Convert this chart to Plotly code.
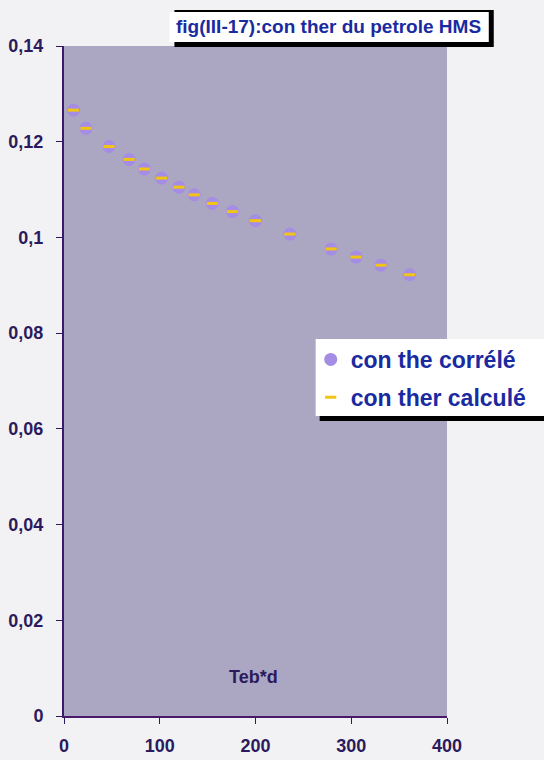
import plotly.graph_objects as go

# Thermal conductivity of HMS crude vs Teb*d
teb_d = [10, 23, 47, 68, 84, 102, 120, 136, 155, 176, 200, 236, 279, 305, 331, 361]
con_correle = [0.1266, 0.1228, 0.1190, 0.1163, 0.1143, 0.1124, 0.1105, 0.1089,
               0.1071, 0.1054, 0.1035, 0.1007, 0.0976, 0.0959, 0.0942, 0.0922]
con_calcule = [0.1266, 0.1228, 0.1190, 0.1163, 0.1143, 0.1124, 0.1105, 0.1089,
               0.1071, 0.1054, 0.1035, 0.1007, 0.0976, 0.0959, 0.0942, 0.0922]
series_names = ["con the corrélé", "con ther calculé"]
title_text = "fig(III-17):con ther du petrole HMS"
x_title = "Teb*d"

W, H = 544, 760
L, R, T, B = 64, 95, 46, 44
PW, PH = W - L - R, H - T - B


def px(xp):
    return (xp - L) / PW


def py(yp):
    return (H - B - yp) / PH


FONT = "Liberation Sans"
AX_COL = "#2b1a5c"
TXT_BLUE = "#1a2aa0"

fig = go.Figure()
fig.add_trace(go.Scatter(
    x=teb_d, y=con_correle, mode="markers", name=series_names[0],
    legendgroup="a",
    marker=dict(symbol="circle", size=13, color="#a58de6",
                line=dict(width=0)),
))
fig.add_trace(go.Scatter(
    x=teb_d, y=con_calcule, mode="markers", name=series_names[1],
    legendgroup="b",
    marker=dict(symbol="line-ew", size=8, color="#f2c414",
                line=dict(width=3, color="#f2c414")),
))

shapes = [
    # title box with drop shadow
    dict(type="rect", xref="paper", yref="paper", x0=px(175), x1=px(496),
         y0=py(47), y1=py(10), fillcolor="#000000", line=dict(width=0), layer="above"),
    dict(type="rect", xref="paper", yref="paper", x0=px(170), x1=px(491),
         y0=py(42), y1=py(12), fillcolor="#ffffff", line=dict(width=0), layer="above"),
    # legend box with drop shadow
    dict(type="rect", xref="paper", yref="paper", x0=px(321), x1=px(560),
         y0=py(421), y1=py(345), fillcolor="#000000", line=dict(width=0), layer="above"),
    dict(type="rect", xref="paper", yref="paper", x0=px(317), x1=px(560),
         y0=py(416), y1=py(339), fillcolor="#ffffff", line=dict(width=0), layer="above"),
]

annotations = [
    dict(text=title_text, xref="paper", yref="paper", x=px(330), y=py(27),
         xanchor="center", yanchor="middle", showarrow=False,
         font=dict(family=FONT, size=19, color=TXT_BLUE, weight="bold")),
    dict(text="<b>" + x_title + "</b>", xref="x", yref="y", x=198, y=0.0081,
         xanchor="center", yanchor="middle", showarrow=False,
         font=dict(family=FONT, size=18, color=AX_COL)),
]

fig.update_layout(
    width=W, height=H,
    margin=dict(l=L, r=R, t=T, b=B, pad=0),
    paper_bgcolor="#f2f2f4",
    plot_bgcolor="#aba7c3",
    separators=", ",
    showlegend=True,
    legend=dict(x=px(312), y=py(338), xanchor="left", yanchor="top",
                bgcolor="rgba(0,0,0,0)", borderwidth=0,
                tracegroupgap=5, traceorder="grouped",
                font=dict(family=FONT, size=23, color=TXT_BLUE, weight="bold")),
    shapes=shapes,
    annotations=annotations,
)

fig.update_xaxes(
    range=[0, 400], dtick=100, tick0=0, automargin=False,
    showgrid=False, zeroline=False,
    showline=True, linecolor="#4a1a6a", linewidth=2,
    ticks="outside", ticklen=6, tickcolor=AX_COL, tickwidth=1,
    ticklabelstandoff=6,
    tickfont=dict(family=FONT, size=18, color=AX_COL, weight="bold"),
)
fig.update_yaxes(
    range=[0, 0.14], dtick=0.02, tick0=0, automargin=False,
    showgrid=False, zeroline=False,
    showline=True, linecolor="#3a1a6a", linewidth=2,
    ticks="outside", ticklen=6, tickcolor=AX_COL, tickwidth=1,
    ticklabelstandoff=9,
    tickfont=dict(family=FONT, size=18, color=AX_COL, weight="bold"),
)

fig.write_html("out.html")
